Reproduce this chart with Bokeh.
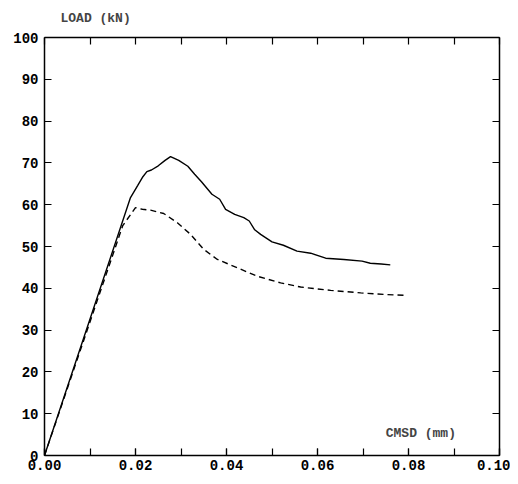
from bokeh.plotting import figure
from bokeh.models import (Range1d, LinearAxis, SingleIntervalTicker, FixedTicker, Label, Title,
                          PrintfTickFormatter)
from bokeh.embed import file_html
from bokeh.resources import INLINE

solid_x = [0, 0.0189, 0.0205, 0.0215, 0.0225, 0.0235, 0.0250, 0.0265, 0.0277, 0.0295, 0.0315,
           0.0330, 0.0345, 0.0368, 0.0385, 0.0398, 0.0418, 0.0438, 0.0450, 0.0462, 0.0475,
           0.0500, 0.0525, 0.0555, 0.0585, 0.0618, 0.0658, 0.0698, 0.0716, 0.0740, 0.0760]
solid_y = [0, 61.7, 64.6, 66.5, 67.9, 68.3, 69.3, 70.6, 71.5, 70.6, 69.2,
           67.3, 65.5, 62.5, 61.3, 58.9, 57.7, 56.9, 56.1, 54.0, 52.9,
           51.1, 50.3, 48.9, 48.4, 47.2, 46.9, 46.5, 46.0, 45.8, 45.6]

dashed_x = [0, 0.0172, 0.0200, 0.0215, 0.0233, 0.0262, 0.0292, 0.0321, 0.0350, 0.0380,
            0.0424, 0.0467, 0.0519, 0.0563, 0.0629, 0.0695, 0.0753, 0.0797]
dashed_y = [0, 55.0, 59.3, 58.9, 58.7, 57.9, 55.7, 52.9, 49.3, 46.9,
            44.9, 42.9, 41.3, 40.3, 39.5, 38.9, 38.5, 38.3]

x_tick_marks = [0.00, 0.01, 0.02, 0.03, 0.04, 0.05, 0.06, 0.07, 0.08, 0.09, 0.10]
y_tick_marks = [0, 10, 20, 30, 40, 50, 60, 70, 80, 90, 100]

y_title = "LOAD  (kN)"
x_title = "CMSD  (mm)"

TICK_FONT = "Liberation Mono"
LABEL_FONT = "Liberation Mono"

p = figure(width=510, height=474, output_backend="svg", toolbar_location=None,
           x_range=Range1d(0, 0.10), y_range=Range1d(0, 100),
           min_border_left=44, min_border_right=11, min_border_top=37, min_border_bottom=19)
p.xaxis.visible = False
p.yaxis.visible = False
p.grid.visible = False
p.outline_line_color = None
p.background_fill_color = "white"
p.border_fill_color = "white"

def style(ax):
    ax.axis_line_color = "black"
    ax.axis_line_width = 1.5
    ax.major_tick_in = 7
    ax.major_tick_out = 0
    ax.minor_tick_in = 7
    ax.minor_tick_out = 0
    ax.major_tick_line_color = "black"
    ax.minor_tick_line_color = "black"
    ax.major_tick_line_width = 1.2
    ax.minor_tick_line_width = 1.2
    ax.major_label_text_font = TICK_FONT
    ax.major_label_text_font_style = "bold"
    ax.major_label_text_font_size = "14px"
    ax.major_label_text_color = "black"

xb = LinearAxis(ticker=SingleIntervalTicker(interval=0.02, num_minor_ticks=2),
                formatter=PrintfTickFormatter(format="%.2f"))
style(xb)
xb.major_label_standoff = 4
p.add_layout(xb, "below")

xt = LinearAxis(ticker=FixedTicker(ticks=[], minor_ticks=x_tick_marks))
style(xt)
xt.major_label_standoff = 0
xt.major_label_text_font_size = "1px"
p.add_layout(xt, "above")

yl = LinearAxis(ticker=SingleIntervalTicker(interval=10, num_minor_ticks=0))
style(yl)
yl.major_label_standoff = 6
p.add_layout(yl, "left")

yr = LinearAxis(ticker=FixedTicker(ticks=[], minor_ticks=y_tick_marks))
style(yr)
yr.major_label_standoff = 0
p.add_layout(yr, "right")

p.line(solid_x, solid_y, line_color="black", line_width=1.4)
p.line(dashed_x, dashed_y, line_color="black", line_width=1.4, line_dash="6 4")

t = Title(text=y_title, align="left", offset=16, text_font=LABEL_FONT,
          text_font_style="bold", text_font_size="13px", standoff=19,
          vertical_align="top")
p.add_layout(t, "above")

p.add_layout(Label(x=0.075, y=5.3, text=x_title, text_font=LABEL_FONT,
                   text_font_style="bold", text_font_size="13px",
                   text_baseline="middle", text_align="left"))

open("out.html", "w").write(file_html(p, INLINE))
